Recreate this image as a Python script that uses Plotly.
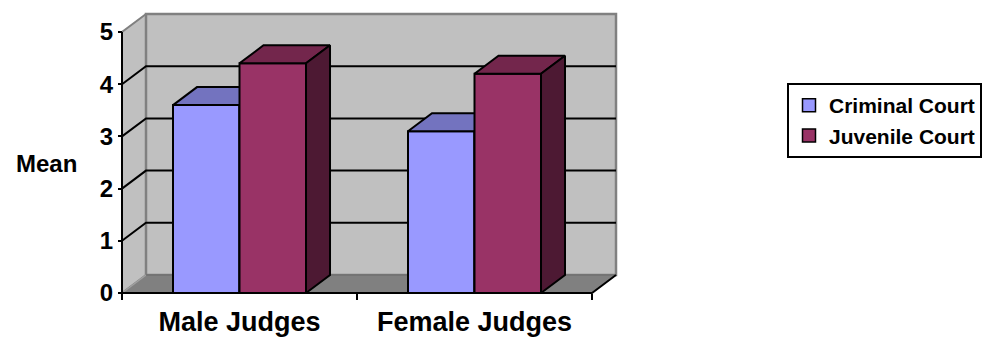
import plotly.graph_objects as go

# ---- data ----
categories = ["Male Judges", "Female Judges"]
series_names = ["Criminal Court", "Juvenile Court"]
criminal_court = [3.6, 3.1]
juvenile_court = [4.4, 4.2]
y_ticks = [0, 1, 2, 3, 4, 5]

# ---- style ----
front_colors = ["#9999FF", "#993366"]
top_colors = ["#7373BF", "#73264C"]
side_colors = ["#4D4D80", "#4D1933"]
WALL = "#C0C0C0"
FLOOR = "#808080"
EDGE = "#808080"
FONT = "Liberation Sans"

DX = 24 / 235.0   # depth offset in x units
DY = 18 / 52.2    # depth offset in y units
BW = 0.283        # bar width in category units
YMAX = y_ticks[-1]
XL, XR = -0.5, len(categories) - 0.5

fig = go.Figure()

def poly(xs, ys, fill, line_color="black", line_width=2):
    fig.add_trace(go.Scatter(
        x=xs + [xs[0]], y=ys + [ys[0]], mode="lines", fill="toself",
        fillcolor=fill, line=dict(color=line_color, width=line_width),
        showlegend=False, hoverinfo="skip"))

def line(xs, ys, color="black", width=2):
    fig.add_trace(go.Scatter(x=xs, y=ys, mode="lines",
                             line=dict(color=color, width=width),
                             showlegend=False, hoverinfo="skip"))

# left side wall
poly([XL, XL, XL + DX, XL + DX], [0, YMAX, YMAX + DY, DY], WALL, EDGE, 2)
# back wall
poly([XL + DX, XR + DX, XR + DX, XL + DX], [DY, DY, YMAX + DY, YMAX + DY], WALL, EDGE, 2.5)
# floor
poly([XL, XR, XR + DX, XL + DX], [0, 0, DY, DY], FLOOR, FLOOR, 1)
line([XL, XL + DX], [0, DY], "#A0A0A0", 1.5)
line([XL + DX, XR + DX], [DY, DY], "#707070", 1.5)

# gridlines (side wall diagonal + back wall horizontal)
gx, gy = [], []
for v in y_ticks[1:-1]:
    gx += [XL, XL + DX, XR + DX, None]
    gy += [v, v + DY, v + DY, None]
line(gx, gy, "black", 2)

# front axis lines
line([XL, XL], [0, YMAX], "black", 2)
line([XL, XR, XR + DX], [0, 0, DY], "black", 2)

# 3D bars
values = [criminal_court, juvenile_court]
for i, cat in enumerate(categories):
    for j, vals in enumerate(values):
        v = vals[i]
        x0 = i - BW + j * BW
        x1 = x0 + BW
        poly([x0, x1, x1, x0], [0, 0, v, v], front_colors[j])
        poly([x0, x1, x1 + DX, x0 + DX], [v, v, v + DY, v + DY], top_colors[j])
        poly([x1, x1 + DX, x1 + DX, x1], [0, DY, v + DY, v], side_colors[j])

# legend entries
for j, name in enumerate(series_names):
    fig.add_trace(go.Scatter(
        x=[None], y=[None], mode="markers", name=name, legendgroup=name,
        marker=dict(symbol="square", size=13, color=front_colors[j],
                    line=dict(color="black", width=1.5))))

fig.update_layout(
    width=983, height=337,
    margin=dict(l=119, r=363, t=10, b=41),
    paper_bgcolor="white", plot_bgcolor="white",
    font=dict(family=FONT, color="black"),
    xaxis=dict(
        range=[XL - 3 / 235.0, XR + 28 / 235.0],
        tickvals=list(range(len(categories))), ticktext=categories,
        ticks="", showgrid=False, zeroline=False, showline=False,
        tickfont=dict(family=FONT, size=27, weight="bold", color="black"),
        ticklabelstandoff=10, automargin=False,
        anchor="free", position=3 / 286.0,
        minor=dict(tickvals=[XL + k for k in range(len(categories) + 1)],
                   ticks="outside", ticklen=6, tickwidth=2, tickcolor="black",
                   showgrid=False),
        fixedrange=True),
    yaxis=dict(
        range=[-3 / 52.2, YMAX + 22 / 52.2],
        tickvals=y_ticks, ticks="outside", ticklen=4, tickwidth=2, tickcolor="black",
        showgrid=False, zeroline=False, showline=False, automargin=False,
        tickfont=dict(family=FONT, size=24, weight="bold", color="black"),
        anchor="free", position=3 / 501.0,
        fixedrange=True),
    legend=dict(
        xref="container", yref="container",
        x=787 / 983.0, y=1 - 83 / 337.0, xanchor="left", yanchor="top",
        bordercolor="black", borderwidth=2, bgcolor="white",
        font=dict(family=FONT, size=21, weight="bold", color="black"),
        tracegroupgap=9, traceorder="normal"),
    annotations=[dict(
        text="Mean", xref="paper", yref="paper", x=-0.1457, y=0.465,
        xanchor="center", yanchor="middle", showarrow=False,
        font=dict(family=FONT, size=24, weight="bold", color="black"))],
)

fig.write_html("out.html")
